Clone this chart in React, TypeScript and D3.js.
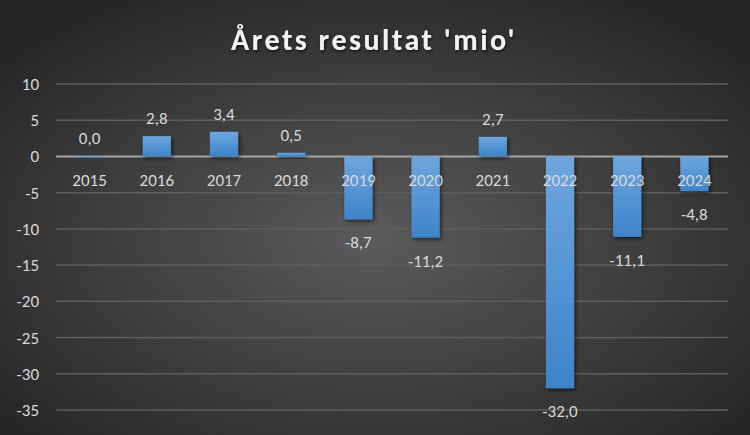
import React from "react";
import * as d3 from "d3";

const years = ["2015", "2016", "2017", "2018", "2019", "2020", "2021", "2022", "2023", "2024"];
const values = [0.0, 2.8, 3.4, 0.5, -8.7, -11.2, 2.7, -32.0, -11.1, -4.8];
const yTicks = [10, 5, 0, -5, -10, -15, -20, -25, -30, -35];
const title = "Årets resultat 'mio'";

const W = 750, H = 435;
const left = 56, right = 728, top = 84, bottom = 410;

export default function App() {
  const x = d3.scaleBand<string>().domain(years).range([left, right]).paddingInner(0.58).paddingOuter(0.29);
  const y = d3.scaleLinear().domain([-35, 10]).range([bottom, top]);
  const fmt = (v: number) => v.toFixed(1).replace(".", ",");
  const font = "Calibri, Carlito, Lato, sans-serif";
  return (
    <svg width={W} height={H} style={{ position: "absolute", left: 0, top: 0 }}>
      <defs>
        <radialGradient id="bg" cx="50%" cy="55%" r="65%">
          <stop offset="0%" stopColor="#5b5b5b" />
          <stop offset="100%" stopColor="#262626" />
        </radialGradient>
        <linearGradient id="bar" x1="0" y1="0" x2="0" y2="1">
          <stop offset="0%" stopColor="#6ea6de" />
          <stop offset="100%" stopColor="#3d84c9" />
        </linearGradient>
        <filter id="sh" x="-50%" y="-50%" width="200%" height="200%">
          <feDropShadow dx="1.5" dy="2" stdDeviation="2" floodColor="#000" floodOpacity="0.6" />
        </filter>
        <filter id="tsh" x="-10%" y="-30%" width="120%" height="160%">
          <feDropShadow dx="1" dy="1.5" stdDeviation="1.5" floodColor="#000" floodOpacity="0.7" />
        </filter>
      </defs>
      <rect width={W} height={H} fill="url(#bg)" />
      <text x={W / 2 - 1} y={50} textAnchor="middle" fill="#f2f2f2" fontFamily={font} fontWeight="bold" fontSize={30} letterSpacing={2.5} filter="url(#tsh)">{title}</text>
      {yTicks.map(t => (
        <g key={t}>
          <line x1={left} x2={right} y1={y(t)} y2={y(t)} stroke={t === 0 ? "#a6a6a6" : "#5e5e5e"} strokeWidth={t === 0 ? 2 : 1.5} />
          <text x={39} y={y(t)} dy="0.35em" textAnchor="end" fill="#d9d9d9" fontFamily={font} fontSize={17}>{t}</text>
        </g>
      ))}
      {values.map((v, i) => {
        const bx = x(years[i])!;
        const y0 = y(Math.max(0, v));
        const h = Math.abs(y(v) - y(0));
        return (
          <rect key={i} x={bx} y={y0} width={x.bandwidth()} height={Math.max(h, 1)} fill="url(#bar)" filter="url(#sh)" />
        );
      })}
      {years.map((yr, i) => (
        <text key={yr} x={x(yr)! + x.bandwidth() / 2} y={y(0) + 30} textAnchor="middle" fill="#d9d9d9" fontFamily={font} fontSize={17}>{yr}</text>
      ))}
      {values.map((v, i) => {
        const cx = x(years[i])! + x.bandwidth() / 2;
        const ly = v >= 0 ? y(v) - 12 : y(v) + 29;
        return (
          <text key={i} x={cx} y={ly} textAnchor="middle" fill="#d9d9d9" fontFamily={font} fontSize={17}>{fmt(v)}</text>
        );
      })}
    </svg>
  );
}
